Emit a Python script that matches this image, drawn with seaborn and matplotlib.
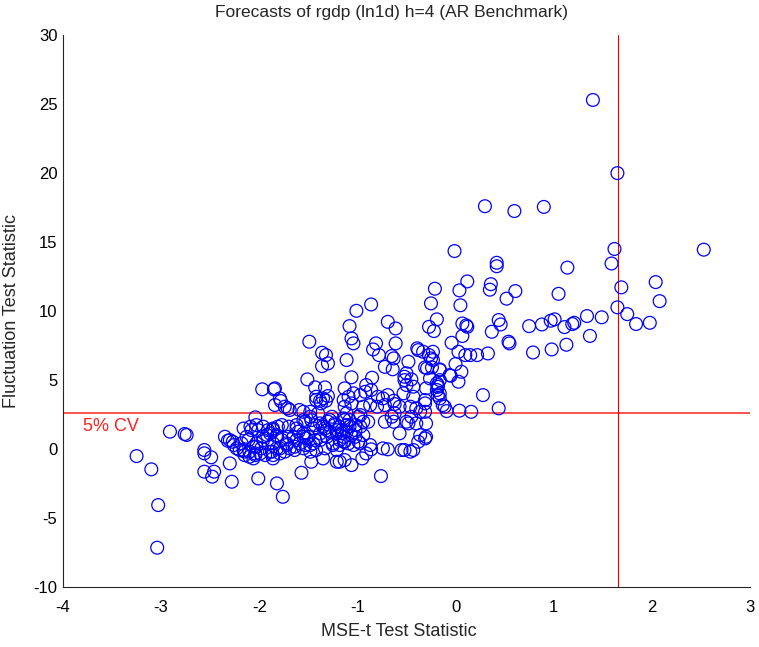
import numpy as np
import matplotlib
matplotlib.use("Agg")
import matplotlib.pyplot as plt
import seaborn as sns

# values
mse_t = [
    1.40, 1.65, 0.30, 0.60, 0.90, -0.01, 1.62, 2.53, 1.59, 0.42,
    0.42, 1.14, 0.12, 2.04, 0.36, 0.35, 0.61, 0.04, -0.21, 1.69,
    1.05, 0.52, 2.08, 1.65, -0.25, 0.05, -0.86, -1.01, 1.75, 1.49,
    1.34, 1.84, 1.98, 1.21, 1.19, 1.11, 1.37, 1.13, -0.19, 0.07,
    0.11, 0.12, 0.44, 0.46, 0.37, 0.75, 0.88, 0.97, 1.01, -0.27,
    -0.22, -1.08, -0.69, -0.61, 0.07, -0.04, 0.54, 0.55, 0.79, 0.98,
    0.03, 0.10, 0.15, 0.22, 0.33, -0.16, 0.00, 0.06, -0.05, 0.03,
    0.28, -0.11, 0.04, 0.16, 0.44, -0.09, -1.06, -1.04, -0.81, -0.84,
    -0.78, -0.61, -0.39, -0.23, -0.27, -0.23, -0.31, -0.24, -0.65, -0.63,
    -0.72, -0.64, -1.11, -0.48, -0.06, -1.06, -0.85, -0.50, -0.52, -0.45,
    -0.52, -0.29, -0.26, -0.19, -0.18, -0.30, -1.13, -1.04, -1.09, -1.14,
    -0.91, -0.86, -0.79, -0.74, -0.69, -0.63, -0.62, -0.72, -0.80, -0.87,
    -0.94, -0.53, -0.57, -0.62, -0.65, -0.63, -0.72, -0.46, -0.40, -0.45,
    -0.36, -0.31, -0.31, -0.30, -0.50, -0.40, -0.16, -0.13, -0.19, -0.18,
    -0.57, -0.36, -0.30, -0.38, -0.52, -0.46, -0.43, -0.55, -0.74, -0.69,
    -0.86, -0.95, -0.76, -1.13, -1.11, -1.13, -0.99, -1.02, -0.99, -1.16,
    -1.14, -1.09, -1.18, -0.94, -0.89, -0.97, -0.43, -0.31, -0.48, -0.31,
    -0.38, -0.33, -0.16, -0.16, -0.18, -0.43, -0.16, -0.25, -0.50, -1.49,
    -1.36, -1.32, -1.36, -1.30, -1.51, -1.84, -1.43, -1.33, -1.79, -1.42,
    -1.35, -1.30, -1.42, -1.38, -1.32, -1.97, -1.85, -1.84, -1.78, -1.71,
    -1.59, -1.48, -1.40, -2.04, -0.97, -0.92, -1.06, -1.37, -1.74, -1.69,
    -1.55, -1.55, -1.48, -1.38, -1.30, -1.23, -1.08, -0.97, -1.02, -1.11,
    -0.94, -1.18, -1.25, -1.33, -1.21, -1.35, -1.21, -1.13, -0.91, -0.87,
    -0.97, -1.86, -1.82, -1.77, -1.72, -1.65, -1.60, -1.55, -1.52, -1.48,
    -1.43, -1.38, -1.33, -1.28, -1.21, -1.16, -1.45, -1.59, -1.69, -1.79,
    -1.74, -1.64, -1.55, -1.48, -1.42, -1.62, -1.70, -1.77, -1.86, -1.87,
    -2.30, -2.26, -2.23, -2.16, -2.15, -2.06, -2.18, -2.11, -2.08, -2.09,
    -2.16, -2.01, -2.03, -1.98, -1.96, -1.92, -1.91, -1.89, -1.94, -1.99,
    -2.04, -1.86, -1.79, -1.81, -1.70, -1.62, -1.53, -1.47, -1.43, -1.35,
    -1.31, -1.31, -1.38, -1.45, -1.53, -1.64, -1.72, -1.62, -1.55, -1.50,
    -1.25, -1.18, -1.13, -1.06, -1.02, -1.04, -1.14, -1.21, -1.18, -1.11,
    -1.23, -1.28, -1.26, -1.14, -1.08, -2.01, -1.82, -1.57, -1.47, -1.06,
    -2.30, -2.28, -1.76, -3.25, -3.10, -3.03, -3.04, -2.91, -2.76, -2.74,
    -2.56, -2.56, -2.49, -2.56, -2.46, -2.48, -2.35, -2.32, -2.27, -2.20,
    -2.15, -2.10, -2.06, -2.03, -2.03, -1.96, -1.89, -1.86, -1.82, -1.96,
    -2.13, -1.82, -1.86, -2.10, -2.04,
]
fluct = [
    25.3, 20.0, 17.6, 17.25, 17.55, 14.35, 14.5, 14.45, 13.45, 13.5,
    13.25, 13.15, 12.15, 12.1, 11.95, 11.55, 11.45, 11.5, 11.62, 11.72,
    11.25, 10.9, 10.72, 10.27, 10.56, 10.42, 10.48, 10.02, 9.78, 9.55,
    9.64, 9.06, 9.15, 9.15, 9.06, 8.84, 8.2, 7.56, 9.4, 9.1,
    8.96, 8.86, 9.35, 9.03, 8.5, 8.91, 9.03, 9.3, 9.4, 8.86,
    8.55, 8.91, 9.22, 8.74, 8.19, 7.7, 7.78, 7.66, 7.0, 7.22,
    7.05, 6.81, 6.81, 6.81, 6.93, 5.77, 6.16, 5.6, 5.31, 4.88,
    3.91, 3.07, 2.78, 2.7, 2.95, 2.75, 8.02, 7.66, 7.66, 7.22,
    6.81, 7.66, 7.3, 7.05, 6.81, 6.45, 5.92, 5.92, 6.74, 6.57,
    5.96, 5.78, 6.45, 6.33, 5.36, 5.2, 5.17, 5.49, 5.0, 5.05,
    5.24, 5.85, 5.12, 4.76, 4.51, 4.4, 4.4, 4.04, 3.79, 3.55,
    4.64, 4.28, 3.79, 3.67, 3.91, 3.5, 3.26, 3.19, 3.07, 3.19,
    3.07, 4.04, 3.07, 2.59, 2.34, 1.98, 1.98, 3.07, 2.95, 2.34,
    2.7, 3.31, 2.7, 1.86, 1.98, 1.86, 3.67, 3.19, 4.28, 3.91,
    1.14, 1.01, 0.89, 0.53, -0.07, -0.19, -0.07, -0.07, 0.05, -0.02,
    -0.02, -0.68, -1.96, 3.07, 2.59, 2.10, 2.34, 0.89, 0.53, 1.14,
    0.53, 0.41, -0.92, 1.98, 1.98, 1.62, 3.79, 3.55, 1.86, 0.77,
    7.17, 7.05, 5.72, 5.0, 4.64, 4.52, 4.03, 6.57, 4.64, 7.78,
    6.98, 6.81, 6.01, 6.21, 5.05, 4.4, 4.47, 4.47, 3.67, 3.79,
    3.67, 3.84, 3.55, 3.50, 3.50, 4.33, 4.33, 3.19, 3.48, 2.95,
    2.83, 2.7, 2.59, 2.3, 3.91, 4.15, 3.31, 3.31, 3.07, 2.83,
    2.70, 2.10, 2.34, 1.86, 1.98, 1.74, 2.10, 2.46, 1.74, 1.26,
    1.01, 0.65, 0.29, 0.05, -0.07, -0.68, -0.92, -0.80, -0.32, 0.29,
    0.41, 1.38, 1.01, 0.65, 0.41, 0.89, 1.26, 1.13, 0.77, 0.29,
    0.65, 1.13, 1.50, 1.26, 1.13, 1.38, 1.50, 0.41, 0.05, 0.05,
    -0.19, -0.07, 0.05, -0.19, -0.07, 1.74, 1.62, 1.74, 0.41, -0.19,
    0.65, 0.29, 0.05, -0.08, -0.44, -0.68, 0.41, 0.65, 1.37, 1.62,
    1.49, 1.37, 0.41, 0.05, 0.65, 1.01, 1.37, -0.2, -0.44, -0.32,
    -0.32, -0.44, -0.32, 1.62, 0.89, 1.49, 1.98, 2.1, 1.74, 1.62,
    1.37, 0.89, 0.65, 0.41, 0.29, 0.17, 0.29, 0.65, 0.89, 0.89,
    0.41, 0.29, 0.53, 1.01, 1.37, 0.29, 0.89, 1.37, 1.62, 1.74,
    1.86, 2.1, 2.34, 2.22, 1.62, -2.13, -2.49, -1.72, -0.92, -1.16,
    -1.04, -2.37, -3.46, -0.51, -1.47, -4.06, -7.15, 1.26, 1.09, 1.02,
    -0.07, -0.31, -0.6, -1.64, -1.64, -2.0, 0.89, 0.60, 0.53, -0.07,
    -0.19, -0.19, 0.17, 0.17, 1.74, 1.62, 1.13, 1.49, 0.89, 0.89,
    0.89, 0.05, -0.68, -0.56, -0.44,
]

cv_fluct = 2.6    # 5% critical value of the fluctuation test
cv_mse = 1.66     # 5% critical value of the MSE-t test
x_ticks = [-4, -3, -2, -1, 0, 1, 2, 3]
y_ticks = [-10, -5, 0, 5, 10, 15, 20, 25, 30]

sns.set_style("white")
plt.rcParams['font.family'] = ['Liberation Sans', 'DejaVu Sans']
plt.rcParams['axes.unicode_minus'] = False

fig = plt.figure(figsize=(7.59, 6.47), dpi=100)
ax = fig.add_axes([0.083, 0.0927, 0.905, 0.853])

sns.scatterplot(x=mse_t, y=fluct, ax=ax, marker='o', s=85,
                color='none', edgecolor='#0000ff', linewidth=0.9, zorder=3)

ax.axhline(cv_fluct, color='#ff5050', lw=1.4, zorder=2)
ax.axvline(cv_mse, color='#e00000', lw=0.8, zorder=2)
ax.text(-3.8, cv_fluct - 0.35, '5% CV', color='#ff2020', fontsize=13,
        ha='left', va='top')

ax.set_xlim(-4, 3)
ax.set_ylim(-10, 30)
ax.set_xticks(x_ticks)
ax.set_yticks(y_ticks)
ax.tick_params(direction='in', length=4, width=0.8, colors='0.15',
               labelsize=12, labelcolor='black')
ax.tick_params(axis='x', pad=9)
ax.tick_params(axis='y', pad=4)

sns.despine(ax=ax)
for side in ['left', 'bottom']:
    ax.spines[side].set_color('0.15')
    ax.spines[side].set_linewidth(0.8)

ax.set_title('Forecasts of rgdp (ln1d) h=4 (AR Benchmark)', fontsize=12.5,
             pad=13, x=0.478)
ax.set_xlabel('MSE-t Test Statistic', fontsize=13)
ax.set_ylabel('Fluctuation Test Statistic', fontsize=13)
ax.xaxis.set_label_coords(0.489, -0.066)
ax.yaxis.set_label_coords(-0.063, 0.5)

fig.savefig('out.png', dpi=100)
